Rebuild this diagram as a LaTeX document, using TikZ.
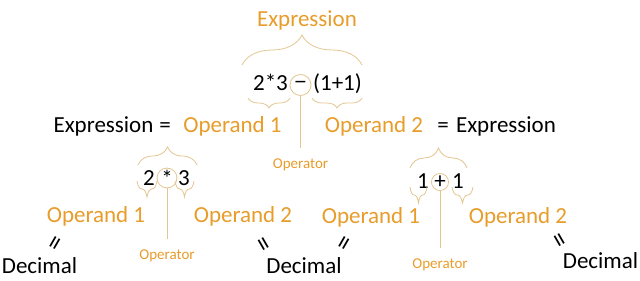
\documentclass[tikz,border=0pt]{standalone}
\usepackage{fontspec}
\setmainfont{Carlito}
\usetikzlibrary{decorations.pathreplacing}
\definecolor{termorange}{RGB}{232,156,42}
\definecolor{bracetan}{RGB}{226,198,145}

\begin{document}
\begin{tikzpicture}[x=1pt, y=-1pt,
    big/.style={font=\fontsize{23}{26}\selectfont, inner sep=0pt, anchor=base},
    term/.style={big, text=termorange},
    oplabel/.style={font=\fontsize{15}{17}\selectfont, text=termorange, inner sep=0pt, anchor=base},
    opcirc/.style={circle, draw=bracetan, line width=0.8pt, inner sep=0pt,
                   minimum size=#1, font=\fontsize{23}{26}\selectfont},
    grp/.style={draw=bracetan, line width=0.8pt, decorate, decoration={brace, amplitude=#1}},
    stem/.style={draw=bracetan, line width=0.8pt, shorten >=10pt},
    eqmark/.style={font=\fontsize{28}{28}\selectfont, inner sep=0pt, rotate=#1}
  ]
  \useasboundingbox (0,0) rectangle (640,281);

  % Top expression
  \node[term] (expr) at (307,26) {Expression};
  \node[big] (prod) at (270.5,90) {2*3};
  \node[opcirc=21pt] (minus) at (300.5,85) {\scalebox{1.2}[1]{–}};
  \node[big] (paren) at (337.5,90) {(1+1)};
  \node[oplabel] (optop) at (300.5,168) {Operator};

  % Middle row
  \node[big] (exprL) at (103.5,132) {Expression};
  \node[big] (eqL) at (165,132) {=};
  \node[term] (opdA) at (232.5,132) {Operand 1};
  \node[term] (opdB) at (374,132) {Operand 2};
  \node[big] (eqR) at (443,132) {=};
  \node[big] (exprR) at (506,132) {Expression};

  % Left sub-expression
  \node[big] (two) at (149,185) {2};
  \node[opcirc=17pt] (times) at (167,178) {\raisebox{-4pt}{*}};
  \node[big] (three) at (184,185) {3};
  \node[oplabel] (opleft) at (167,259) {Operator};

  % Right sub-expression
  \node[big] (oneA) at (423,188) {1};
  \node[opcirc=17pt] (plus) at (440,182) {+};
  \node[big] (oneB) at (458,188) {1};
  \node[oplabel] (opright) at (440,268) {Operator};

  % Bottom row
  \node[term] (opdC) at (96,222) {Operand 1};
  \node[term] (opdD) at (243,222) {Operand 2};
  \node[term] (opdE) at (371,223) {Operand 1};
  \node[term] (opdF) at (518,223) {Operand 2};
  \node[big] (decA) at (39.5,273) {Decimal};
  \node[big] (decB) at (304,273) {Decimal};
  \node[big] (decC) at (600.5,268) {Decimal};
  \node[eqmark=60] (eqA) at (57.5,244) {=};
  \node[eqmark=-60] (eqB) at (261,246) {=};
  \node[eqmark=60] (eqC) at (347,244) {=};
  \node[eqmark=-60] (eqD) at (557,242) {=};

  % Braces
  \draw[grp=30] (242,65) -- (362,65);
  \draw[grp=10] (290,98) -- (248,98);
  \draw[grp=10] (362,98) -- (312,98);
  \draw[grp=18] (138,165) -- (197,165);
  \draw[grp=16] (157,181) -- (137,181);
  \draw[grp=16] (194,181) -- (175,181);
  \draw[grp=20] (410,168) -- (467,168);
  \draw[grp=16] (427,187) -- (410,187);
  \draw[grp=16] (473,187) -- (452,187);

  % Operator stems
  \draw[stem] (minus) -- (optop);
  \draw[stem] (times) -- (opleft);
  \draw[stem] (plus) -- (opright);
\end{tikzpicture}
\end{document}
